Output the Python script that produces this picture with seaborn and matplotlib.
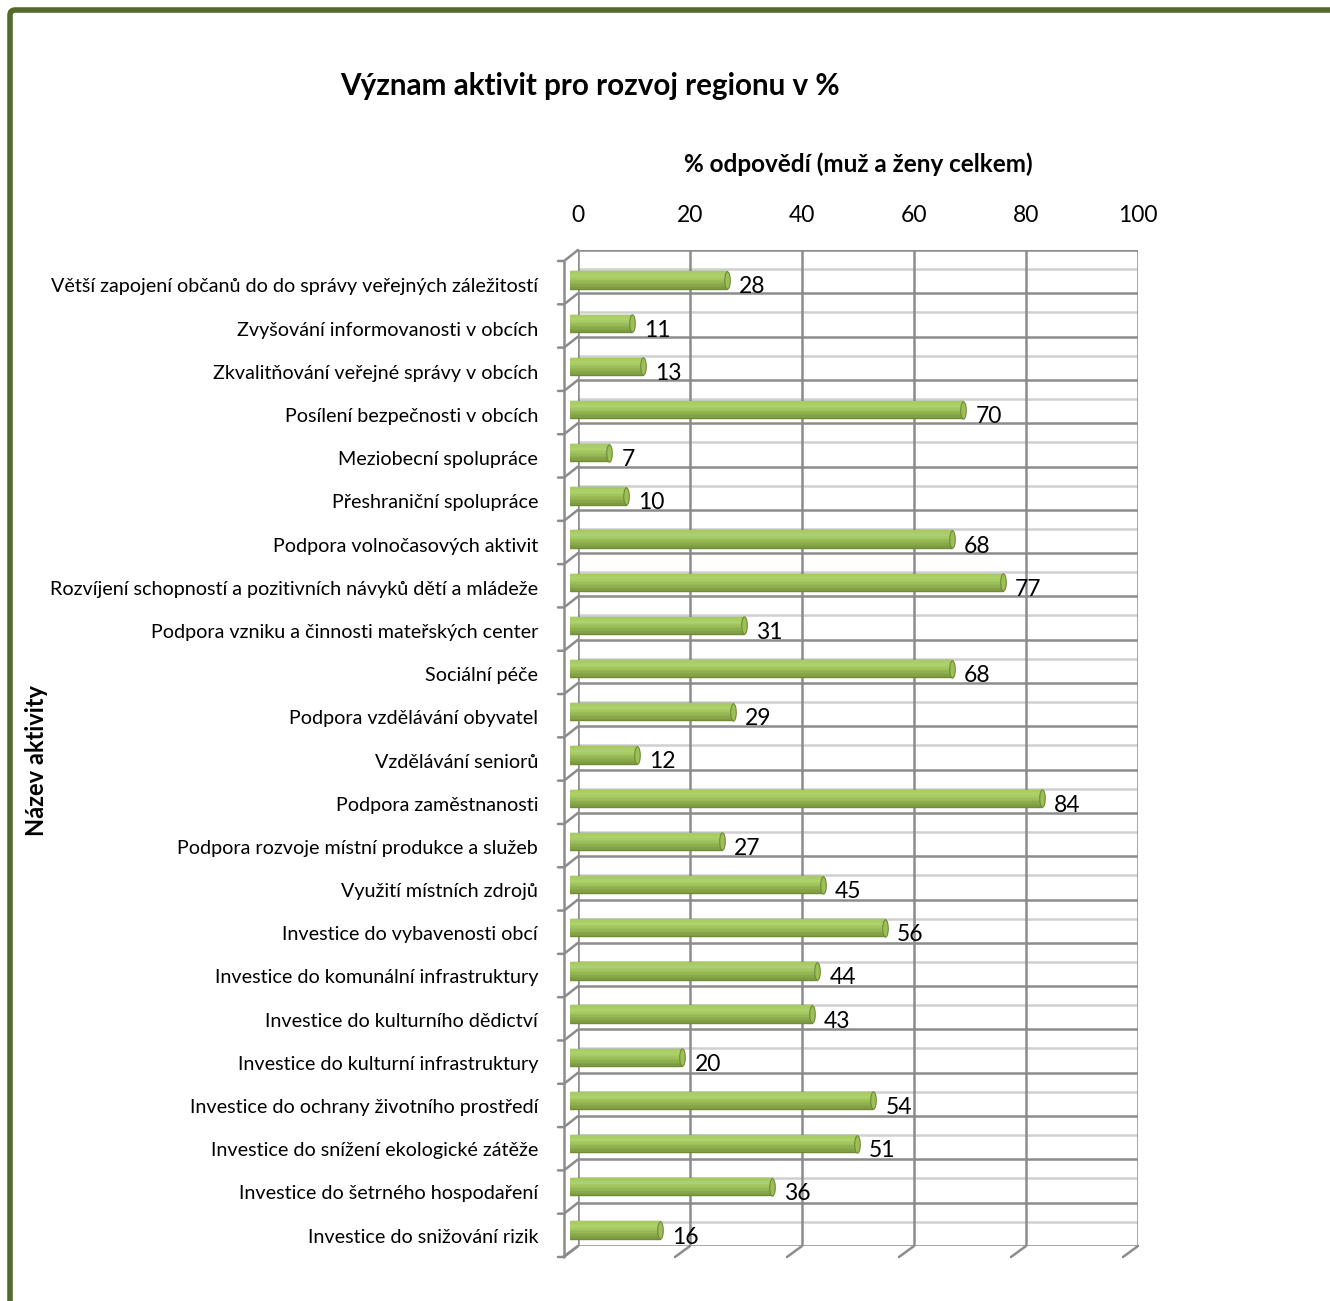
import numpy as np
import pandas as pd
import matplotlib
matplotlib.use("Agg")
import matplotlib.pyplot as plt
import matplotlib.transforms as mtransforms
from matplotlib.patches import FancyBboxPatch
from matplotlib.path import Path
from matplotlib.colors import to_rgb
import seaborn as sns

categories = [
    "Větší zapojení občanů do do správy veřejných záležitostí",
    "Zvyšování informovanosti v obcích",
    "Zkvalitňování veřejné správy v obcích",
    "Posílení bezpečnosti v obcích",
    "Meziobecní spolupráce",
    "Přeshraniční spolupráce",
    "Podpora volnočasových aktivit",
    "Rozvíjení schopností a pozitivních návyků dětí a mládeže",
    "Podpora vzniku a činnosti mateřských center",
    "Sociální péče",
    "Podpora vzdělávání obyvatel",
    "Vzdělávání seniorů",
    "Podpora zaměstnanosti",
    "Podpora rozvoje místní produkce a služeb",
    "Využití místních zdrojů",
    "Investice do vybavenosti obcí",
    "Investice do komunální infrastruktury",
    "Investice do kulturního dědictví",
    "Investice do kulturní infrastruktury",
    "Investice do ochrany životního prostředí",
    "Investice do snížení ekologické zátěže",
    "Investice do šetrného hospodaření",
    "Investice do snižování rizik",
]
values = [28, 11, 13, 70, 7, 10, 68, 77, 31, 68, 29, 12, 84, 27, 45, 56, 44, 43, 20, 54, 51, 36, 16]
x_ticks = [0, 20, 40, 60, 80, 100]

title = "Význam aktivit pro rozvoj regionu v %"
x_label = "% odpovědí (muž a ženy celkem)"
y_label = "Název aktivity"

sns.set_theme(style="white")
plt.rcParams["font.family"] = ["Lato", "DejaVu Sans"]
plt.rcParams["text.color"] = "black"
plt.rcParams["axes.labelcolor"] = "black"
plt.rcParams["xtick.color"] = "black"
plt.rcParams["ytick.color"] = "black"

W, H = 1330, 1301
fig = plt.figure(figsize=(W / 100, H / 100), dpi=100)

def rect(l, t, r, b):
    return [l / W, 1 - b / H, (r - l) / W, (b - t) / H]

n = len(categories)
df = pd.DataFrame({"cat": categories, "val": values})

# back wall (grid) axes
axb = fig.add_axes(rect(578, 250, 1138, 1246))
axb.set_xlim(0, 100)
axb.set_ylim(n, 0)
axb.set_facecolor("none")
for s in axb.spines.values():
    s.set_visible(False)
dark = "#8C8C8C"
light = "#D0D0D0"
for xv in x_ticks:
    axb.axvline(xv, color=dark, lw=1.8, zorder=1)
light_off = mtransforms.offset_copy(axb.transData, fig=fig, x=0, y=-19, units="dots")
for i in range(n + 1):
    axb.axhline(i, color=dark, lw=1.8, zorder=1)
    if i < n:
        axb.plot([0, 100], [i, i], color=light, lw=1.8, transform=light_off, zorder=0.9)
fig.canvas.draw()
for i in range(n + 1):
    p0 = axb.transData.transform((0, i))
    axb.plot([p0[0], p0[0] - 14, p0[0] - 20], [p0[1], p0[1] - 11, p0[1] - 11],
             color=dark, lw=1.8, transform=None, zorder=1, clip_on=False)
p_top = axb.transData.transform((0, 0))
p_bot = axb.transData.transform((0, n))
axb.plot([p_top[0] - 14, p_bot[0] - 14], [p_top[1] - 11, p_bot[1] - 11],
         color=dark, lw=1.8, transform=None, clip_on=False)
for xv in x_ticks:
    p = axb.transData.transform((xv, n))
    axb.plot([p[0], p[0] - 15], [p[1], p[1] - 11], color=dark, lw=1.8,
             transform=None, clip_on=False)
axb.xaxis.tick_top()
axb.set_xticks(x_ticks)
axb.set_xticklabels([str(v) for v in x_ticks], fontsize=16.5, color="black")
axb.tick_params(axis="x", length=0, pad=17)
axb.set_yticks([])
axb.set_xlabel(x_label, fontsize=17.5, fontweight="bold", labelpad=24, color="black")
axb.xaxis.set_label_position("top")

# bar axes (front)
ax = fig.add_axes(rect(570, 258.4, 1132, 1251.6))
ax.set_facecolor("none")
bar_h = 0.40
sns.barplot(data=df, x="val", y="cat", orient="h", color="#8DAE4C",
            edgecolor="#6F8A38", linewidth=1.0, width=bar_h, saturation=1, ax=ax)
# cylinder shading strips
top_c = np.array(to_rgb("#A6C962"))
hi_c = np.array(to_rgb("#AED26A"))
bot_c = np.array(to_rgb("#7A983C"))
nstrip = 12
pos = np.arange(n)
for k in range(nstrip):
    f = (k + 0.5) / nstrip
    if f < 0.3:
        c = top_c + (hi_c - top_c) * (f / 0.3)
    else:
        c = hi_c + (bot_c - hi_c) * ((f - 0.3) / 0.7)
    yc = pos - bar_h / 2 + bar_h * f
    ax.barh(yc, values, height=bar_h / nstrip * 1.05, color=c, linewidth=0, zorder=3)
# end caps
theta = np.linspace(0, 2 * np.pi, 40)
ell = Path(np.column_stack([0.32 * np.cos(theta), np.sin(theta)]), closed=True)
ax.scatter(values, pos, marker=ell, s=(bar_h * 43.2 * 0.72) ** 2, c="#9CC055",
           edgecolors="#6F8A38", linewidths=0.8, zorder=4)
ax.set_xlim(0, 100)
ax.set_ylim(n - 0.5, -0.5)
for s in ax.spines.values():
    s.set_visible(False)
ax.set_xticks([])
ax.set_xlabel("")
ax.set_ylabel("")
ax.set_yticks(pos)
ax.set_yticklabels(categories, fontsize=14.2, color="black")
ax.tick_params(axis="y", length=0, pad=23)
shift = mtransforms.ScaledTranslation(0, -7 / 100, fig.dpi_scale_trans)
for lab in ax.get_yticklabels():
    lab.set_va("center")
    lab.set_transform(lab.get_transform() + shift)
lab_off = mtransforms.offset_copy(ax.transData, fig=fig, x=12, y=-7, units="dots")
for i, v in enumerate(values):
    ax.text(v, i, str(v), transform=lab_off, fontsize=16.5, va="center", ha="left", color="black")

fig.text(590 / W, 1 - 86 / H, title, fontsize=21.3, fontweight="bold", ha="center",
         va="center", color="black")
fig.text(37 / W, 1 - 760 / H, y_label, fontsize=17, fontweight="bold", rotation=90,
         ha="center", va="center", color="black")

border = FancyBboxPatch((10 / W, -0.05), 1.2, 1 - 10 / H + 0.05,
                        boxstyle="round,pad=0,rounding_size=0.004",
                        transform=fig.transFigure, fill=False, edgecolor="#55692C",
                        linewidth=4, clip_on=False)
fig.patches.append(border)

fig.savefig("out.png", dpi=100)
